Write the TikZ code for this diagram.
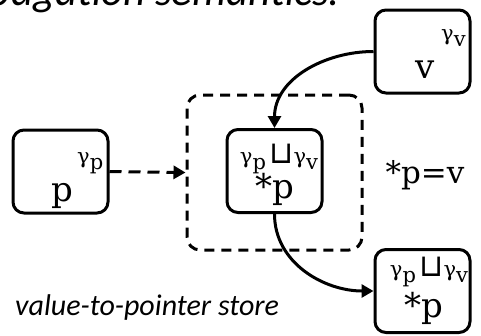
\documentclass[tikz,border=0pt]{standalone}
\usepackage{fontspec}
\setmainfont{Carlito}
\newfontfamily\labfont{DejaVu Serif}
\newfontfamily\opfont{DejaVu Sans}
\usetikzlibrary{arrows.meta}

% superscript tag: gamma with a lowered index
\newcommand\gtag[1]{γ\lower6pt\hbox{#1}}
\newcommand\joinop{\,{\opfont\fontsize{31}{31}\selectfont ⊔}}
\newcommand\supsize{\labfont\fontsize{21}{21}\selectfont}
\newcommand\mainsize{\labfont\fontsize{34}{34}\selectfont}

\tikzset{
  varbox/.style={draw, line width=3pt, rounded corners=11pt,
    minimum width=95pt, minimum height=83pt, inner sep=0pt},
  region/.style={draw, line width=3pt, rounded corners=13pt,
    dash pattern=on 10pt off 7pt, minimum width=175pt, minimum height=155pt,
    inner sep=0pt},
  flow/.style={line width=3pt, -{Triangle[length=12pt,width=13pt]}},
  dflow/.style={flow, dash pattern=on 12pt off 7pt},
  big/.style={font=\mainsize, anchor=base, inner sep=0pt},
  tag/.style={font=\supsize, anchor=base, inner sep=0pt},
}

\begin{document}
\begin{tikzpicture}[x=1pt, y=-1pt]
  \useasboundingbox (0,0) rectangle (481,335);
  \clip (0,0) rectangle (481,335);

  % title line and caption
  \node[anchor=base east, inner sep=0pt, font=\fontsize{43}{43}\selectfont\itshape]
    (title) at (340,5) {propagation semantics.};
  \node[anchor=base west, inner sep=0pt, font=\fontsize{30}{30}\selectfont\itshape]
    (caption) at (15,315) {value-to-pointer store};

  % variable boxes
  \node[varbox] (p) at (60.5,171.5) {};
  \node[varbox] (v) at (422.5,51.5) {};
  \node[region] (dbox) at (274.5,172.5) {};
  \node[varbox] (cstar) at (274.5,171) {};
  \node[varbox] (bstar) at (422.5,291) {};

  % labels inside the boxes
  \node[big] (plab) at (62,201) {p};
  \node[tag, anchor=base west] (ptag) at (77,163) {\gtag{p}};
  \node[big] (vlab) at (425,78) {v};
  \node[tag, anchor=base west] (vtag) at (441,40) {\gtag{v}};
  \node[tag] (ctag) at (279,163) {\gtag{p}\joinop\gtag{v}};
  \node[big] (clab) at (274.5,198) {*p};
  \node[tag] (btag) at (429,276) {\gtag{p}\joinop\gtag{v}};
  \node[big] (blab) at (424,317) {*p};

  % statement
  \node[big, font=\labfont\fontsize{31}{31}\selectfont] (stmt) at (425,183) {*p=v};

  % connectors
  \draw[dflow] (p.east) -- (dbox.west);
  \draw[flow] (v.west) to[out=180, in=90] (cstar.north);
  \draw[flow] (cstar.south) to[out=-90, in=180] (bstar.west);
\end{tikzpicture}
\end{document}
